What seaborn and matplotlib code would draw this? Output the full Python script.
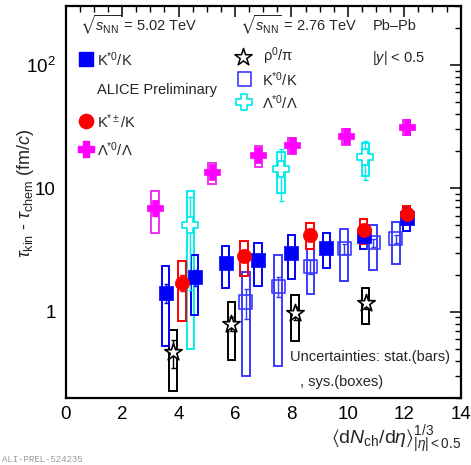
import numpy as np
import pandas as pd
import matplotlib
matplotlib.use("Agg")
import matplotlib.pyplot as plt
import seaborn as sns
from matplotlib.ticker import LogLocator, MultipleLocator, NullFormatter

sns.set_theme(style="white")
plt.rcParams['font.family'] = ['Liberation Sans', 'DejaVu Sans']
plt.rcParams['mathtext.fontset'] = 'custom'
plt.rcParams['mathtext.rm'] = 'Liberation Sans'
plt.rcParams['mathtext.it'] = 'Liberation Sans:italic'
plt.rcParams['mathtext.bf'] = 'Liberation Sans:bold'
plt.rcParams['mathtext.fallback'] = 'stixsans'

# ---- data ----
# 5.02 TeV K*0/K (filled blue squares)
x_k0_502 = [3.54, 4.57, 5.67, 6.82, 8.00, 9.24, 10.56, 12.08]
y_k0_502 = [1.43, 1.91, 2.49, 2.61, 3.00, 3.30, 4.10, 5.72]
stat_k0_502 = [0.26, 0.28, 0.20, 0.20, 0.20, 0.20, 0.25, 0.30]
sys_k0_502 = [0.90, 0.97, 0.92, 0.98, 1.15, 1.05, 0.85, 1.25]

# 5.02 TeV K*+-/K (red circles)
x_kch = [4.12, 6.31, 8.65, 10.56, 12.08]
y_kch = [1.72, 2.84, 4.22, 4.57, 6.14]
stat_kch = [0.25, 0.20, 0.20, 0.20, 0.20]
sys_kch = [0.88, 0.90, 0.98, 1.02, 1.08]

# 5.02 TeV Lambda*0/Lambda (magenta crosses)
x_lam502 = [3.16, 5.19, 6.83, 8.02, 9.93, 12.08]
y_lam502 = [6.96, 13.5, 18.5, 22.4, 26.5, 31.5]
stat_lam502 = [1.0, 1.5, 2.0, 2.0, 2.0, 2.5]
sys_lam502 = [2.6, 2.6, 3.5, 3.4, 3.9, 4.3]

# 2.76 TeV rho0/pi (open stars)
x_rho = [3.80, 5.87, 8.12, 10.63]
y_rho = [0.47, 0.80, 0.97, 1.18]
stat_rho = [0.12, 0.10, 0.12, 0.12]
sys_rho = [0.24, 0.39, 0.39, 0.39]

# 2.76 TeV K*0/K (open blue squares)
x_k0_276 = [6.38, 7.53, 8.67, 9.87, 10.90, 11.70]
y_k0_276 = [1.20, 1.61, 2.32, 3.24, 3.62, 3.90]
stat_k0_276 = [0.32, 0.30, 0.30, 0.30, 0.30, 0.30]
sys_k0_276 = [0.90, 1.25, 0.93, 1.45, 1.43, 1.45]

# 2.76 TeV Lambda*0/Lambda (open cyan crosses)
x_lam276 = [4.42, 7.62, 10.62]
y_lam276 = [5.0, 14.4, 17.8]
stat_lam276 = [3.5, 6.5, 6.2]
sys_lam276 = [4.5, 5.3, 5.3]

fig = plt.figure(figsize=(4.71, 4.65), dpi=100)
ax = fig.add_axes([65.7/471, 1-398/465, 395/471, 392/465])
ax.set_yscale('log')

series = [
    # x, y, stat, sys, marker, size, face, edge, boxcolor, errcolor
    (x_rho, y_rho, stat_rho, sys_rho, '*', 170, 'white', 'black', 'black', 'black'),
    (x_k0_276, y_k0_276, stat_k0_276, sys_k0_276, 's', 90, 'none', '#3a3aff', '#3a3aff', '#3a3aff'),
    (x_lam276, y_lam276, stat_lam276, sys_lam276, 'P', 120, 'white', '#00e8e8', '#00f0f0', '#00e8e8'),
    (x_k0_502, y_k0_502, stat_k0_502, sys_k0_502, 's', 90, '#0000ff', '#0000ff', '#0000ff', '#0000ff'),
    (x_kch, y_kch, stat_kch, sys_kch, 'o', 105, '#ff0000', '#ff0000', '#ff0000', '#ff0000'),
    (x_lam502, y_lam502, stat_lam502, sys_lam502, 'P', 120, '#ff00ff', '#ff00ff', '#ee33ee', '#ff00ff'),
]

for xs, ys, st, sy, mk, ms, fc, ec, bc, errc in series:
    df = pd.DataFrame({'x': xs, 'y': ys, 'stat': st, 'sys': sy})
    ax.bar(df['x'], 2*df['sys'], bottom=df['y']-df['sys'], width=0.27,
           fill=False, edgecolor=bc, linewidth=1.4, zorder=2)
    ax.errorbar(df['x'], df['y'], yerr=df['stat'], fmt='none', ecolor=errc,
                elinewidth=1.0, capsize=1.8, capthick=1.0, zorder=3)
    sns.scatterplot(data=df, x='x', y='y', marker=mk, s=ms, color=fc,
                    edgecolor=ec, linewidth=1.2 if fc in ('white', 'none') else 0.5,
                    ax=ax, zorder=4, legend=False)

ax.set_xlim(0, 14)
ax.set_ylim(0.2, 300)
ax.set_xlabel('')
ax.set_ylabel('')

ax.xaxis.set_major_locator(MultipleLocator(2))
ax.xaxis.set_minor_locator(MultipleLocator(0.5))
ax.set_yticks([1, 10, 100])
ax.set_yticklabels(['1', '10', r'$10^2$'])
ax.yaxis.set_minor_locator(LogLocator(base=10, subs=np.arange(2, 10)))
ax.yaxis.set_minor_formatter(NullFormatter())

ax.tick_params(which='both', direction='in', top=True, right=True, colors='black',
               labelsize=13.5)
ax.tick_params(which='major', length=8, width=1.1)
ax.tick_params(which='minor', length=4, width=1.0)
ax.tick_params(axis='x', which='major', pad=6)
ax.tick_params(axis='y', which='major', pad=7)
for s in ax.spines.values():
    s.set_linewidth(1.6)
    s.set_color('black')

# ---- texts / legend ----
T = ax.transAxes
fs = 10.5
ax.text(0.036, 0.950, r'$\sqrt{s_{\rm NN}}$ = 5.02 TeV', transform=T, fontsize=fs, va='center', ha='left')
ax.text(0.442, 0.950, r'$\sqrt{s_{\rm NN}}$ = 2.76 TeV', transform=T, fontsize=fs, va='center', ha='left')
ax.text(0.778, 0.950, 'Pb–Pb', transform=T, fontsize=fs, va='center', ha='left')
ax.text(0.776, 0.867, r'|$y$| < 0.5', transform=T, fontsize=fs, va='center', ha='left')

ax.scatter([0.051], [0.865], marker='s', s=90, color='#0000ff', transform=T, clip_on=False)
ax.text(0.078, 0.862, r'K$^{*0}$/K', transform=T, fontsize=fs, va='center', ha='left')
ax.text(0.080, 0.785, 'ALICE Preliminary', transform=T, fontsize=fs, va='center', ha='left')
ax.scatter([0.051], [0.707], marker='o', s=105, color='#ff0000', transform=T, clip_on=False)
ax.text(0.078, 0.704, r'K$^{*\pm}$/K', transform=T, fontsize=fs, va='center', ha='left')
ax.scatter([0.051], [0.636], marker='P', s=120, color='#ff00ff', transform=T, clip_on=False)
ax.text(0.078, 0.633, r'Λ$^{*0}$/Λ', transform=T, fontsize=fs, va='center', ha='left')

ax.scatter([0.448], [0.871], marker='*', s=170, facecolor='white', edgecolor='black', linewidth=1.1, transform=T)
ax.text(0.500, 0.871, r'ρ$^{0}$/π', transform=T, fontsize=fs, va='center', ha='left')
ax.scatter([0.452], [0.814], marker='s', s=90, facecolor='none', edgecolor='#3a3aff', linewidth=1.2, transform=T)
ax.text(0.498, 0.812, r'K$^{*0}$/K', transform=T, fontsize=fs, va='center', ha='left')
ax.scatter([0.452], [0.756], marker='P', s=120, facecolor='white', edgecolor='#00e8e8', linewidth=1.2, transform=T)
ax.text(0.498, 0.754, r'Λ$^{*0}$/Λ', transform=T, fontsize=fs, va='center', ha='left')

ax.text(0.568, 0.104, 'Uncertainties: stat.(bars)', transform=T, fontsize=fs, va='center', ha='left')
ax.text(0.594, 0.042, ', sys.(boxes)', transform=T, fontsize=fs, va='center', ha='left')

fig.text(26/471, 1-193/465, r'$\tau_{\rm kin}$ - $\tau_{\rm chem}$ (fm/$c$)', rotation=90,
         fontsize=13, ha='center', va='center')
fig.text(461/471, 1-440/465, r'$\langle{\rm d}N_{\rm ch}/{\rm d}\eta\rangle^{1/3}_{|\eta|<0.5}$',
         fontsize=14, ha='right', va='center')
fig.text(2/471, 1-459/465, 'ALI-PREL-524235', fontsize=6.5, color='#999999',
         family='Liberation Mono', ha='left', va='center')

fig.savefig('out.png', dpi=100)
